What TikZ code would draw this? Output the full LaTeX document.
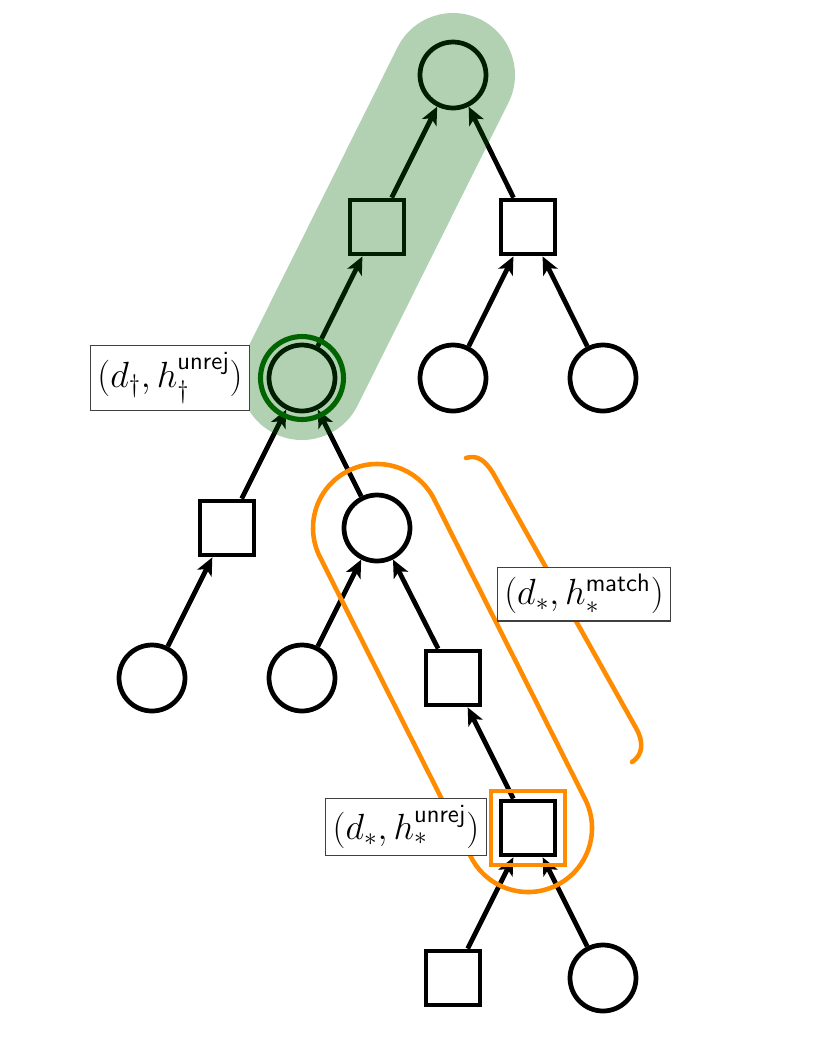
\documentclass[tikz,border=0pt]{standalone}
\usepackage{amsmath}
\usepackage{xcolor}
\usepackage{tikz}
\usetikzlibrary{arrows.meta, calc}
\definecolor{verdebanda}{RGB}{0,100,0}
\definecolor{naranja}{RGB}{255,140,0}
\tikzset{>={Stealth[length=10pt,width=9pt,inset=2.5pt]}}

\begin{document}
\begin{tikzpicture}[x=0.02cm, y=0.02cm, line width=2.7pt,
    circ/.style={circle, draw, minimum size=1.32cm, inner sep=0pt},
    sqr/.style={rectangle, draw, minimum size=1.08cm, inner sep=0pt},
    edge/.style={->},
    lbl/.style={draw=black!75, line width=0.6pt, fill=white, inner sep=4pt,
      font=\fontsize{20}{24}\selectfont}]
    \useasboundingbox (0,0) rectangle (830,-1056);
    % level 0
    \node[circ] (raiz) at (453,-75) {};
    % level 1
    \node[sqr] (s1) at (377,-227) {};
    \node[sqr] (s2) at (528,-227) {};
    % level 2
    \node[circ] (c1) at (302,-378) {};
    \node[circ] (c2) at (453,-378) {};
    \node[circ] (c3) at (603,-378) {};
    % level 3
    \node[sqr] (s3) at (227,-528) {};
    \node[circ] (c4) at (377,-528) {};
    % level 4
    \node[circ] (c5) at (152,-678) {};
    \node[circ] (c6) at (302,-678) {};
    \node[sqr] (s4) at (453,-678) {};
    % level 5
    \node[sqr] (s5) at (528,-828) {};
    % level 6
    \node[sqr] (s6) at (453,-978) {};
    \node[circ] (c7) at (603,-978) {};
    % edges child -> parent
    \foreach \hijo/\padre in {s1/raiz, s2/raiz, c1/s1, c2/s2, c3/s2, s3/c1, c4/c1,
        c5/s3, c6/c4, s4/c4, s5/s4, s6/s5, c7/s5}
      \draw[edge] (\hijo) -- (\padre);
    % green path and ring
    \node[circle, draw=verdebanda, line width=2.9pt, minimum size=1.66cm, inner sep=0pt] (anillo) at (c1) {};
    \draw[verdebanda, opacity=0.3, line width=2.48cm, line cap=round] (raiz.center) -- (c1.center);
    % orange band and mark
    \node[draw=naranja, line width=2.6pt, minimum size=1.48cm, inner sep=0pt] (marca) at (s5) {};
    \begin{scope}[shift={(c4.center)}, rotate=-63.28]
      \draw[naranja, line width=2.6pt] (0,-64) -- (335.9,-64)
        arc[start angle=-90, end angle=90, radius=1.28cm] -- (0,64)
        arc[start angle=90, end angle=270, radius=1.28cm] -- cycle;
    \end{scope}
    % bracket
    \draw[naranja, line width=2.6pt, line cap=round]
      (466,-458) .. controls (478,-454) and (486,-462) .. (493,-473) -- (636,-728)
      .. controls (644,-742) and (643,-755) .. (632,-762);
    % labels
    \node[lbl] (etqA) at (170,-378) {$(d_\dagger, h_\dagger^{\mathsf{unrej}})$};
    \node[lbl] (etqB) at (584,-594) {$(d_*, h_*^{\mathsf{match}})$};
    \node[lbl] (etqC) at (406,-827) {$(d_*, h_*^{\mathsf{unrej}})$};
  \end{tikzpicture}
\end{document}
